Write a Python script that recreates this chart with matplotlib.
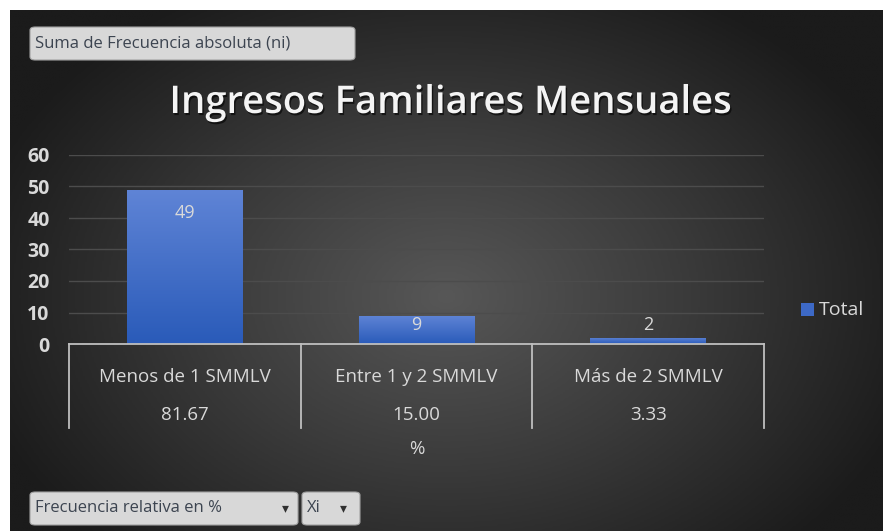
import matplotlib.pyplot as plt
import numpy as np
from matplotlib.patches import FancyBboxPatch, Rectangle
from matplotlib.colors import LinearSegmentedColormap
import matplotlib.patheffects as pe

# Datos
categorias = ["Menos de 1 SMMLV", "Entre 1 y 2 SMMLV", "Más de 2 SMMLV"]
frecuencia = [49, 9, 2]
porcentaje = ["81.67", "15.00", "3.33"]
yticks = [0, 10, 20, 30, 40, 50, 60]

W, H = 883, 531
fig = plt.figure(figsize=(W / 100, H / 100), dpi=100)
fig.patch.set_facecolor("white")

# Fondo oscuro con degradado radial
bg = fig.add_axes([10 / W, 0, 1 - 10 / W, 1 - 10 / H])
bg.set_axis_off()
yy, xx = np.mgrid[0:1:300j, 0:1:500j]
r = np.sqrt(((xx - 0.5) / 0.75) ** 2 + ((yy - 0.55) / 0.9) ** 2)
cmap_bg = LinearSegmentedColormap.from_list("bg", ["#575757", "#3a3a3a", "#1b1b1b"])
bg.imshow(r, cmap=cmap_bg, aspect="auto", extent=[0, 1, 0, 1], vmin=0, vmax=0.75)
bg.set_xlim(0, 1)
bg.set_ylim(0, 1)

font = "Open Sans"
txt_col = "#d9d9d9"

ax = fig.add_axes([69 / W, 1 - 344 / H, (764 - 69) / W, (344 - 155) / H])
ax.set_facecolor("none")
x = np.arange(len(categorias))

bars = ax.bar(x, frecuencia, width=0.5, color="#3d69c6", zorder=3, label="Total")

# Degradado en las barras
cmap_bar = LinearSegmentedColormap.from_list("bar", ["#2a5bb9", "#5f84d6"])
grad = np.linspace(0, 1, 100).reshape(-1, 1)
for b in bars:
    b.set_facecolor("none")
    im = ax.imshow(grad, cmap=cmap_bar, aspect="auto", origin="lower",
                   extent=[b.get_x(), b.get_x() + b.get_width(), 0, max(b.get_height(), 0.01)],
                   zorder=3)
    im.set_clip_path(b)
ax.set_xlim(-0.5, len(categorias) - 0.5)
ax.set_ylim(0, 60)

for b, v in zip(bars, frecuencia):
    ax.text(b.get_x() + b.get_width() / 2, max(v - 7.4, 6.0), str(v), ha="center", va="center",
            color=txt_col, fontsize=13, family=font, zorder=4)

ax.set_yticks(yticks)
ax.set_yticklabels([str(t) for t in yticks], color=txt_col, fontsize=14, family=font, fontweight="bold")
ax.tick_params(axis="y", length=0, pad=14)
ax.tick_params(axis="x", length=0, labelbottom=False)
ax.grid(axis="y", color="#4c4c4c", linewidth=1, zorder=0)
for s in ax.spines.values():
    s.set_visible(False)

# Eje de categorías multinivel
line_col = "#bfbfbf"
trans = ax.get_xaxis_transform()
ax.plot([-0.5, len(categorias) - 0.5], [0, 0], color=line_col, lw=1.3, transform=trans, clip_on=False, zorder=5)
for xb in np.arange(len(categorias) + 1) - 0.5:
    ax.plot([xb, xb], [0, -0.444], color=line_col, lw=1.3, transform=trans, clip_on=False)
for xi, cat, pct in zip(x, categorias, porcentaje):
    ax.text(xi, -0.175, cat, transform=trans, ha="center", va="center", color=txt_col, fontsize=13.5, family=font)
    ax.text(xi, -0.376, pct, transform=trans, ha="center", va="center", color=txt_col, fontsize=13.5, family=font)
ax.text(1, -0.555, "%", transform=trans, ha="center", va="center", color=txt_col, fontsize=13.5, family=font)

# Título
fig.text(451 / W, 1 - 103 / H, "Ingresos Familiares Mensuales", ha="center", va="center",
         color="#f4f4f4", fontsize=27.5, family=font, fontweight="semibold",
         path_effects=[pe.withSimplePatchShadow(offset=(1, -1.5), shadow_rgbFace="black", alpha=0.6)])

# Leyenda
fig.patches.append(Rectangle((801 / W, 1 - 316 / H), 13 / W, 13 / H, transform=fig.transFigure,
                             facecolor="#3d69c6", edgecolor="none"))
fig.text(819 / W, 1 - 310 / H, "Total", ha="left", va="center", color=txt_col, fontsize=14, family=font)


# Botones de campo
def boton(x0, y0, x1, y1, texto, flecha=None):
    p = FancyBboxPatch((x0 / W, 1 - y1 / H), (x1 - x0) / W, (y1 - y0) / H,
                       boxstyle="round,pad=0,rounding_size=0.006", transform=fig.transFigure,
                       facecolor="#d8d8d8", edgecolor="#a0a0a0", lw=0.8)
    fig.patches.append(p)
    fig.text((x0 + 5) / W, 1 - (y0 + y1) / 2 / H, texto, ha="left", va="center",
             color="#3c4450", fontsize=12, family=font)
    if flecha:
        fig.text(flecha / W, 1 - (y0 + y1) / 2 / H, "▾", ha="center", va="center",
                 color="#303030", fontsize=10, family="DejaVu Sans")


boton(30, 27, 355, 60, "Suma de Frecuencia absoluta (ni)")
boton(30, 492, 298, 525, "Frecuencia relativa en %", 285)
boton(302, 492, 360, 525, "Xi", 343)

fig.savefig("out.png", dpi=100)
